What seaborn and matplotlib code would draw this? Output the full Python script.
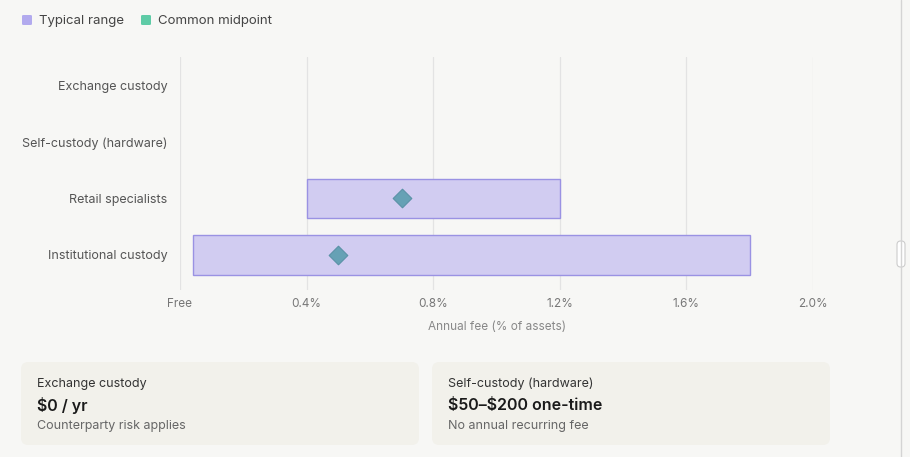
import numpy as np
import pandas as pd
import matplotlib
matplotlib.use("Agg")
import matplotlib.pyplot as plt
from matplotlib.patches import FancyBboxPatch
from matplotlib.lines import Line2D
import seaborn as sns

# ---- data ----
categories = ["Exchange custody", "Self-custody (hardware)", "Retail specialists", "Institutional custody"]
range_low = [np.nan, np.nan, 0.4, 0.04]
range_high = [np.nan, np.nan, 1.2, 1.8]
midpoints = [np.nan, np.nan, 0.7, 0.5]
x_ticks = [0.0, 0.4, 0.8, 1.2, 1.6, 2.0]
x_tick_labels = ["Free", "0.4%", "0.8%", "1.2%", "1.6%", "2.0%"]
legend_labels = ["Typical range", "Common midpoint"]
card_titles = ["Exchange custody", "Self-custody (hardware)"]
card_values = ["\\$0 / yr", "\\$50\u2013\\$200 one-time"]
card_notes = ["Counterparty risk applies", "No annual recurring fee"]

df = pd.DataFrame({"category": categories, "low": range_low,
                   "high": range_high, "mid": midpoints})
df["pos"] = np.arange(len(df))

BG = "#f7f7f5"
BAR_FILL = "#d1ccf1"
BAR_EDGE = "#9a92e3"
DIAMOND = "#66a1b5"
DIAMOND_EDGE = "#5a92a6"
LEG_PURPLE = "#b2aaee"
LEG_GREEN = "#5ecba6"

sns.set_theme(style="white")
plt.rcParams["font.family"] = ["Inter", "DejaVu Sans"]

W, H = 910, 457
fig = plt.figure(figsize=(W / 100, H / 100), dpi=100, facecolor=BG)

def fx(px):
    return px / W

def fy(py):
    return 1 - py / H

ax = fig.add_axes([fx(180), fy(290), fx(813) - fx(180), fy(57) - fy(290)])
ax.set_facecolor(BG)

# range bars
valid = df.dropna(subset=["low", "high"])
ax.barh(valid["pos"], valid["high"] - valid["low"], left=valid["low"], height=0.7,
        color=BAR_FILL, edgecolor=BAR_EDGE, linewidth=1.0, zorder=2)

# midpoints
sns.scatterplot(data=df.dropna(subset=["mid"]), x="mid", y="pos", marker="D", s=90,
                color=DIAMOND, edgecolor=DIAMOND_EDGE, linewidth=0.8, ax=ax, zorder=3,
                legend=False)

ax.set_xlim(0, 2.0)
ax.set_ylim(3.62, -0.5)
ax.set_yticks(df["pos"])
ax.set_yticklabels(categories, fontsize=9, color="#555555")
ax.set_xticks(x_ticks)
ax.set_xticklabels(x_tick_labels, fontsize=8.5, color="#777777")
ax.tick_params(axis="x", length=0, pad=6)
ax.tick_params(axis="y", length=0, pad=9)
ax.set_xlabel("Annual fee (% of assets)", fontsize=8.5, color="#888888", labelpad=8)
ax.set_ylabel("")
ax.grid(axis="x", color="#e3e3e3", linewidth=0.9, zorder=0)
ax.grid(axis="y", visible=False)
ax.set_axisbelow(True)
for s in ax.spines.values():
    s.set_visible(False)

# legend (figure-level)
fig.patches.append(FancyBboxPatch((fx(22), fy(25)), fx(10), fx(10) * W / H,
                                  boxstyle="round,pad=0,rounding_size=0.002",
                                  transform=fig.transFigure, facecolor=LEG_PURPLE,
                                  edgecolor="none"))
fig.text(fx(39), fy(21), legend_labels[0], fontsize=9.5, color="#444444", va="center")
fig.patches.append(FancyBboxPatch((fx(141), fy(25)), fx(10), fx(10) * W / H,
                                  boxstyle="round,pad=0,rounding_size=0.002",
                                  transform=fig.transFigure, facecolor=LEG_GREEN,
                                  edgecolor="none"))
fig.text(fx(158), fy(21), legend_labels[1], fontsize=9.5, color="#444444", va="center")

# cards
card_x = [21, 432]
for i in range(2):
    x0 = card_x[i]
    fig.patches.append(FancyBboxPatch((fx(x0), fy(445)), fx(398), fy(362) - fy(445),
                                      boxstyle="round,pad=0,rounding_size=0.008",
                                      transform=fig.transFigure, facecolor="#f2f1eb",
                                      edgecolor="none", mutation_aspect=W / H))
    fig.text(fx(x0 + 16), fy(383.5), card_titles[i], fontsize=9, color="#333333", va="center")
    fig.text(fx(x0 + 16), fy(405.5), card_values[i], fontsize=11.5, color="#1a1a1a",
             va="center", fontweight="semibold")
    fig.text(fx(x0 + 16), fy(425.5), card_notes[i], fontsize=9, color="#666666", va="center")

# right border and scroll handle
fig.add_artist(Line2D([fx(901), fx(901)], [0, 1], color="#d4d4d4", linewidth=1,
                      transform=fig.transFigure))
fig.patches.append(FancyBboxPatch((fx(897), fy(267)), fx(8), fy(241) - fy(267),
                                  boxstyle="round,pad=0,rounding_size=0.004",
                                  transform=fig.transFigure, facecolor="#ffffff",
                                  edgecolor="#cccccc", linewidth=0.8,
                                  mutation_aspect=W / H))

fig.savefig("out.png", dpi=100, facecolor=BG)
